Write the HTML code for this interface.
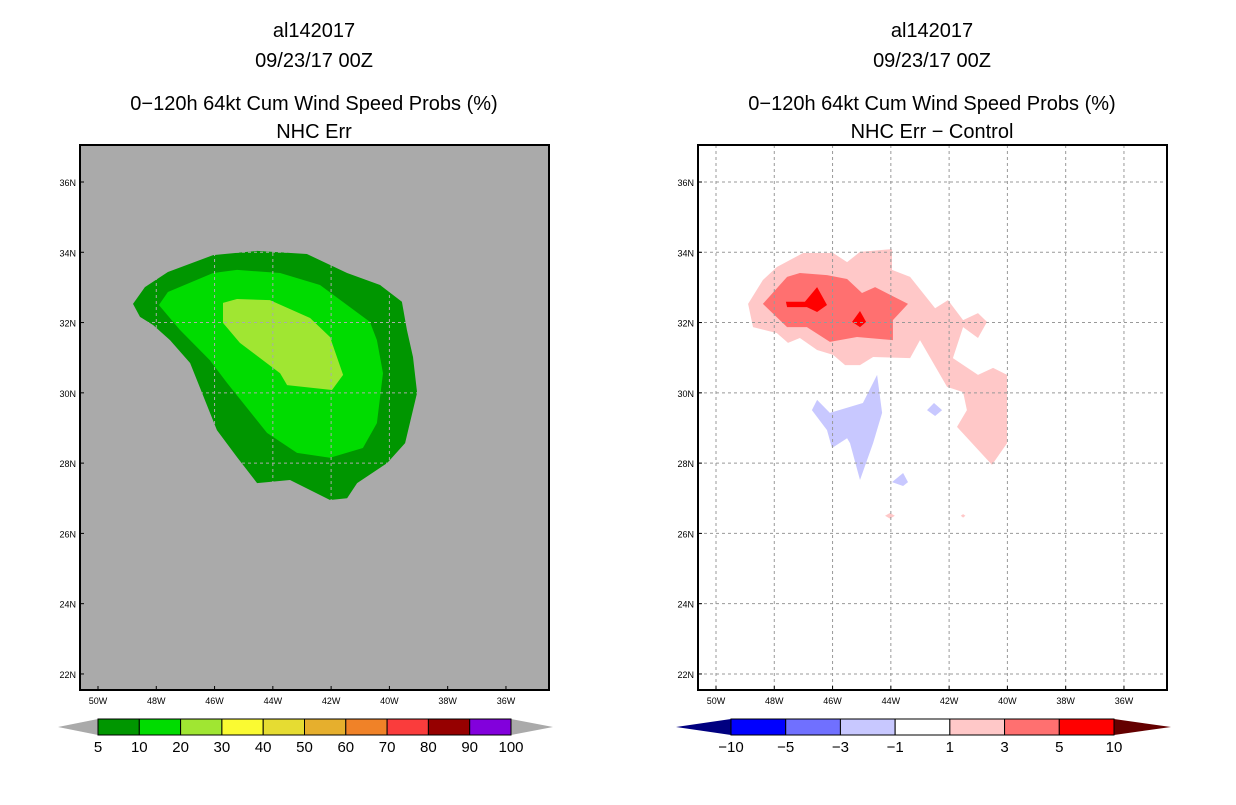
<!DOCTYPE html>
<html><head><meta charset="utf-8"><style>
body{margin:0;background:#fff;width:1236px;height:800px;overflow:hidden}
svg text{font-family:"Liberation Sans",sans-serif;fill:#000}
</style></head><body>
<svg id="c" width="1236" height="800"></svg>
<script>
const lonTicks=[-50,-48,-46,-44,-42,-40,-38,-36];
const latTicks=[22,24,26,28,30,32,34,36];
const leftLevels=["5","10","20","30","40","50","60","70","80","90","100"];
const leftColors=["#009600","#00dc00","#a0e632","#fafa32","#e6dc32","#e6af2d","#f08228","#fa3c3c","#960000","#8200dc"];
const rightLevels=["−10","−5","−3","−1","1","3","5","10"];
const rightColors=["#0000ff","#7070ff","#c8c8ff","#ffffff","#ffc8c8","#ff7070","#ff0000"];
const leftOuter=[[-48.8,32.53],[-48.39,33.01],[-47.6,33.44],[-46.05,33.92],[-44.54,34.04],[-42.83,33.95],[-41.45,33.41],[-40.32,33.07],[-39.57,32.59],[-39.4,31.79],[-39.19,31.02],[-39.05,30.0],[-39.46,28.57],[-40.08,28.0],[-41.11,27.43],[-41.45,27.0],[-42.04,26.95],[-43.41,27.52],[-44.54,27.43],[-45.23,28.17],[-45.92,28.94],[-46.84,30.85],[-47.53,31.5],[-48.11,31.93],[-48.56,32.16]];
const leftMid=[[-47.91,32.5],[-47.6,32.87],[-46.05,33.41],[-45.23,33.5],[-43.75,33.41],[-42.38,33.07],[-40.67,32.02],[-40.43,31.5],[-40.22,30.56],[-40.43,29.14],[-40.91,28.43],[-42.04,28.15],[-43.17,28.29],[-44.2,28.86],[-45.57,30.28],[-46.16,30.93],[-47.19,31.79]];
const leftInner=[[-45.71,32.56],[-45.23,32.67],[-44.1,32.64],[-42.72,32.13],[-42.04,31.59],[-41.59,30.51],[-41.97,30.08],[-43.51,30.22],[-43.75,30.56],[-45.13,31.42],[-45.71,31.99]];
const rightPink=[[-48.9,32.53],[-48.73,31.87],[-47.91,31.7],[-47.53,31.42],[-47.12,31.56],[-46.53,31.22],[-45.98,31.08],[-45.57,30.79],[-45.06,30.79],[-44.61,31.02],[-43.34,30.99],[-43.0,31.5],[-42.07,30.17],[-41.52,30.02],[-41.39,29.51],[-41.73,29.03],[-40.53,27.95],[-40.01,28.57],[-40.01,30.51],[-40.49,30.71],[-41.01,30.51],[-41.87,30.99],[-41.52,31.87],[-41.01,31.56],[-40.7,32.02],[-41.01,32.27],[-41.52,32.07],[-42.04,32.64],[-42.48,32.41],[-43.34,33.3],[-43.96,33.5],[-43.96,34.09],[-45.06,34.01],[-45.5,33.72],[-45.98,33.98],[-47.01,33.98],[-47.91,33.58],[-48.39,33.21]];
const rightRed=[[-48.39,32.53],[-47.56,31.87],[-46.88,31.87],[-46.09,31.45],[-45.16,31.59],[-43.93,31.5],[-43.93,32.07],[-43.41,32.53],[-44.54,33.01],[-44.99,32.84],[-45.5,33.24],[-46.19,33.35],[-47.12,33.41],[-47.56,33.3]];
const rightDark1=[[-47.6,32.59],[-47.56,32.44],[-46.88,32.44],[-46.53,32.3],[-46.19,32.5],[-46.53,33.01],[-46.95,32.59]];
const rightDark2=[[-45.33,32.02],[-45.06,32.33],[-44.85,32.02],[-45.06,31.87]];
const rightBlue1=[[-46.71,29.51],[-46.53,29.8],[-46.09,29.43],[-44.96,29.71],[-44.47,30.51],[-44.3,29.43],[-44.61,28.57],[-45.06,27.52],[-45.4,28.57],[-45.5,28.71],[-46.02,28.43],[-46.19,28.94]];
const rightBlue2=[[-42.76,29.51],[-42.52,29.71],[-42.24,29.51],[-42.48,29.34]];
const rightBlue3=[[-43.96,27.46],[-43.58,27.72],[-43.41,27.46],[-43.58,27.35]];
const rightDot1=[[-44.2,26.5],[-44.03,26.58],[-43.86,26.5],[-44.03,26.42]];
const rightDot2=[[-41.6,26.5],[-41.52,26.55],[-41.44,26.5],[-41.52,26.45]];

const NS='http://www.w3.org/2000/svg';
const svg=document.getElementById('c');
function mk(tag,attrs,parent){const e=document.createElementNS(NS,tag);for(const k in attrs)e.setAttribute(k,attrs[k]);(parent||svg).appendChild(e);return e;}
function txt(x,y,s,size,anchor,parent){const t=mk('text',{x:x,y:y,'font-size':size,'text-anchor':anchor||'middle'},parent);t.textContent=s;return t;}

function panel(px,titles,bg,gridColor,polys,name){
  const g=mk('g',{});
  
  
  const X=lon=>px+18+(lon+50)*29.14;
  const Y=lat=>182+(36-lat)*35.14;
  const ys=[37,67,110,138];
  titles.forEach((s,i)=>{const t=txt(px+234,ys[i],s,20,'middle',g);});
  const r=mk('rect',{x:px,y:145,width:469,height:545,fill:bg},g);
  
  
  polys.forEach(p=>{const pg=mk('polygon',{points:p[0].map(v=>X(v[0]).toFixed(1)+','+Y(v[1]).toFixed(1)).join(' '),fill:p[1]},g);});
  lonTicks.forEach(l=>{const x=X(l);const ln=mk('line',{x1:x,y1:145,x2:x,y2:690,stroke:gridColor,'stroke-dasharray':'3 3','stroke-width':1},g);
    mk('line',{x1:x,y1:690,x2:x,y2:686,stroke:'#000'},g);
    const t=txt(x,704,(-l)+'W',9,'middle',g);});
  latTicks.forEach(l=>{const y=Y(l);const ln=mk('line',{x1:px,y1:y,x2:px+469,y2:y,stroke:gridColor,'stroke-dasharray':'3 3','stroke-width':1},g);
    mk('line',{x1:px,y1:y,x2:px+4,y2:y,stroke:'#000'},g);
    const t=txt(px-4,y+4,l+'N',9,'end',g);});
  const f=mk('rect',{x:px,y:145,width:469,height:545,fill:'none',stroke:'#000','stroke-width':2},g);
  
  
}
panel(80,['al142017','09/23/17 00Z','0−120h 64kt Cum Wind Speed Probs (%)','NHC Err'],'#aaaaaa','#aaaaaa',
 [[leftOuter,leftColors[0]],[leftMid,leftColors[1]],[leftInner,leftColors[2]]],'left-panel');
panel(698,['al142017','09/23/17 00Z','0−120h 64kt Cum Wind Speed Probs (%)','NHC Err − Control'],'#ffffff','#999999',
 [[rightPink,rightColors[4]],[rightRed,rightColors[5]],[rightDark1,rightColors[6]],[rightDark2,rightColors[6]],[rightBlue1,rightColors[2]],[rightBlue2,rightColors[2]],[rightBlue3,rightColors[2]],[rightDot1,rightColors[4]],[rightDot2,rightColors[4]]],'right-panel');

function colorbar(x0,x1,tl,tr,colors,levels,lc,rc,name){
  const g=mk('g',{});
  
  
  const y0=719,y1=735,ym=727;
  mk('polygon',{points:`${tl},${ym} ${x0},${y0} ${x0},${y1}`,fill:lc},g);
  mk('polygon',{points:`${tr},${ym} ${x1},${y0} ${x1},${y1}`,fill:rc},g);
  const w=(x1-x0)/colors.length;
  colors.forEach((c,i)=>{const r=mk('rect',{x:x0+i*w,y:y0,width:w,height:y1-y0,fill:c,stroke:'#000','stroke-width':1},g);});
  levels.forEach((s,i)=>{const t=txt(x0+i*w,752,s,15,'middle',g);});
}
colorbar(98,511,58,553,leftColors,leftLevels,'#aaaaaa','#aaaaaa','left-colorbar');
colorbar(731,1114,676,1171,rightColors,rightLevels,'#000080','#640000','right-colorbar');
</script>
</body></html>
